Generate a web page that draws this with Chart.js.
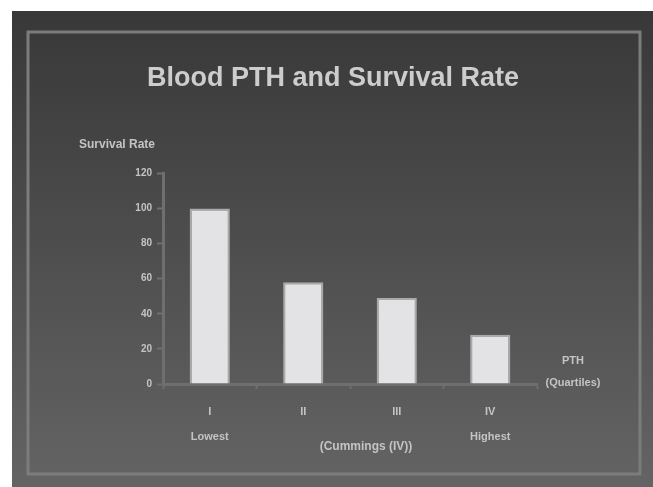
<!DOCTYPE html>
<html lang="en">
<head>
    <meta charset="UTF-8">
    <title>Blood PTH and Survival Rate</title>
    <script src="https://cdn.jsdelivr.net/npm/chart.js"></script>
    <style>
        html, body { margin: 0; padding: 0; background: #fff; }
        #wrap { width: 653px; height: 487px; }
    </style>
</head>
<body>
    <div id="wrap"><canvas id="pthChart" width="653" height="487"></canvas></div>

    <script>
        // data
        const quartiles = ['I', 'II', 'III', 'IV'];
        const quartileNotes = ['Lowest', '', '', 'Highest'];
        const survivalRate = [100, 58, 49, 28];
        const yTicks = [0, 20, 40, 60, 80, 100, 120];

        const textColor = '#c4c4c4';
        const fontFamily = '"Liberation Sans", Arial, sans-serif';

        // slide background, frame and the loose labels
        const slidePlugin = {
            id: 'slide',
            beforeDraw(chart) {
                const ctx = chart.ctx;
                const w = chart.width, h = chart.height;
                ctx.save();
                ctx.fillStyle = '#ffffff';
                ctx.fillRect(0, 0, w, h);
                const g = ctx.createLinearGradient(0, 11, 0, h);
                g.addColorStop(0, '#383838');
                g.addColorStop(1, '#646464');
                ctx.fillStyle = g;
                ctx.fillRect(12, 11, w - 12, h - 11);
                ctx.strokeStyle = '#7c7c7c';
                ctx.lineWidth = 3;
                ctx.strokeRect(28, 32, 612, 442);
                ctx.restore();
            },
            afterDraw(chart) {
                const ctx = chart.ctx;
                const x = chart.scales.x, y = chart.scales.y;
                ctx.save();
                ctx.fillStyle = textColor;
                ctx.textAlign = 'center';
                ctx.textBaseline = 'middle';
                ctx.font = 'bold 12px ' + fontFamily;
                ctx.fillText('Survival Rate', x.left - 46, y.top - 29);
                ctx.font = 'bold 11px ' + fontFamily;
                ctx.fillText('PTH', x.right + 36, y.bottom - 23);
                ctx.fillText('(Quartiles)', x.right + 36, y.bottom - 1);
                ctx.font = 'bold 12px ' + fontFamily;
                ctx.fillText('(Cummings (IV))', (x.left + x.right) / 2 + 16, y.bottom + 63);
                ctx.restore();
            }
        };

        const ctx = document.getElementById('pthChart').getContext('2d');
        new Chart(ctx, {
            type: 'bar',
            data: {
                labels: quartiles.map((q, i) => [q, quartileNotes[i]]),
                datasets: [{
                    label: 'Survival Rate',
                    data: survivalRate,
                    backgroundColor: '#e3e3e5',
                    borderColor: '#a9a9ab',
                    borderWidth: 2,
                    borderSkipped: 'bottom',
                    barPercentage: 0.43,
                    categoryPercentage: 1
                }]
            },
            options: {
                responsive: false,
                animation: false,
                devicePixelRatio: 1,
                layout: { padding: { left: 129, right: 116, top: 0, bottom: 0 } },
                plugins: {
                    legend: { display: false },
                    tooltip: { enabled: false },
                    title: {
                        display: true,
                        text: 'Blood PTH and Survival Rate',
                        color: '#cdcdcd',
                        font: { family: fontFamily, size: 27, weight: 'bold', lineHeight: 1.2 },
                        padding: { top: 62, bottom: 79 }
                    }
                },
                scales: {
                    x: {
                        afterFit(s) { s.height = 103; },
                        grid: {
                            offset: true,
                            drawOnChartArea: false,
                            drawTicks: true,
                            tickLength: 5,
                            tickColor: '#6f6f6f',
                            tickWidth: 2
                        },
                        border: { color: '#6f6f6f', width: 3 },
                        ticks: {
                            color: textColor,
                            padding: 10,
                            maxRotation: 0,
                            font: { family: fontFamily, size: 11, weight: 'bold', lineHeight: 2.3 }
                        }
                    },
                    y: {
                        min: 0,
                        max: 120,
                        afterFit(s) { s.width = 34; },
                        afterBuildTicks(s) { s.ticks = yTicks.map(v => ({ value: v })); },
                        grid: {
                            drawOnChartArea: false,
                            drawTicks: true,
                            tickLength: 6,
                            tickColor: '#6f6f6f',
                            tickWidth: 2
                        },
                        border: { color: '#6f6f6f', width: 3 },
                        ticks: {
                            color: textColor,
                            padding: 5,
                            font: { family: fontFamily, size: 10, weight: 'bold' }
                        }
                    }
                }
            },
            plugins: [slidePlugin]
        });
    </script>
</body>
</html>
